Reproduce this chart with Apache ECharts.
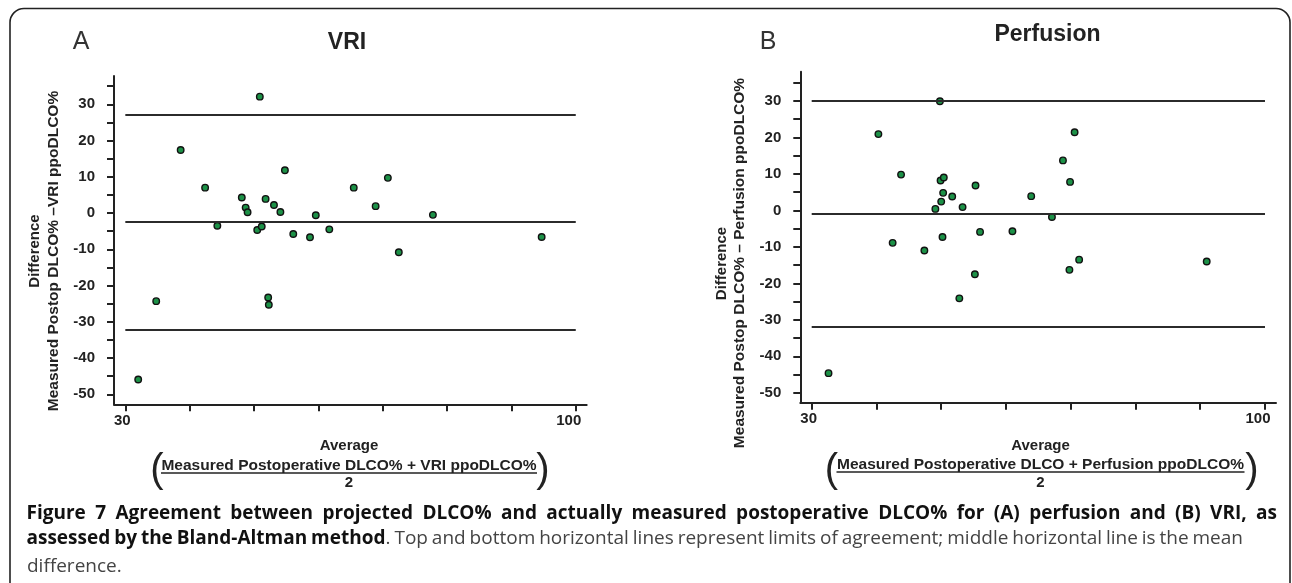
<!DOCTYPE html>
<html>
<head>
<meta charset="utf-8">
<script src="https://cdn.jsdelivr.net/npm/echarts@6/dist/echarts.min.js"></script>
<style>
    html, body { margin: 0; padding: 0; background: #fff; }
    #graph1 { width: 1292px; height: 583px; }
</style>
</head>
<body>
<div id="graph1"></div>
<script>
// A: VRI -- average vs difference
var vriAverage    = [50.9, 38.6, 42.4, 44.3, 48.1, 48.7, 49.0, 50.5, 51.2, 51.8, 53.1, 54.1, 54.8, 56.1, 58.7, 59.6, 61.7, 65.5, 68.9, 70.8, 72.5, 77.8, 34.8, 52.2, 52.3, 32.0, 94.7];
var vriDifference = [32.1, 17.4, 7.0, -3.5, 4.3, 1.5, 0.2, -4.7, -3.7, 3.9, 2.2, 0.3, 11.8, -5.8, -6.7, -0.6, -4.5, 7.0, 1.9, 9.7, -10.8, -0.5, -24.3, -23.3, -25.3, -45.9, -6.6];
var vriLimits     = [27.2, -2.4, -32.3];   // upper limit, mean, lower limit

// B: Perfusion
var perfAverage    = [49.8, 40.3, 43.8, 42.5, 47.4, 49.1, 50.0, 49.9, 50.4, 50.3, 51.7, 50.2, 53.3, 52.8, 55.2, 55.3, 56.0, 61.0, 63.9, 67.1, 68.8, 69.9, 69.8, 70.6, 71.3, 32.6, 91.0];
var perfDifference = [29.9, 20.9, 9.8, -8.9, -11.0, 0.4, 2.4, 8.2, 9.0, 4.8, 3.8, -7.3, 0.9, -24.1, -17.5, 6.8, -5.9, -5.7, 3.9, -1.8, 13.7, 7.8, -16.3, 21.4, -13.5, -44.6, -14.0];
var perfLimits     = [30.0, -1.0, -32.0];

// ticks / labels
var limitSpan   = [30, 100];
var xTickValues = [30, 40, 50, 60, 70, 80, 90, 100];
var xLabelValues = [30, 100];
var yTickValues = [-50, -45, -40, -35, -30, -25, -20, -15, -10, -5, 0, 5, 10, 15, 20, 25, 30, 35];
var yLabelValues = [-50, -40, -30, -20, -10, 0, 10, 20, 30];

var AXIS_FONT = '"Liberation Sans", Arial, sans-serif';
var INK = '#222';

function pairs(xs, ys) {
    return xs.map(function (x, i) { return [x, ys[i]]; });
}

function makeXAxis(idx) {
    return {
        type: 'value', gridIndex: idx, min: 28.24, max: 101.7,
        splitLine: {show: false},
        axisLine: {onZero: false, lineStyle: {color: INK, width: 2}},
        axisTick: {customValues: xTickValues, length: 7, lineStyle: {color: INK, width: 2}},
        axisLabel: {
            customValues: xLabelValues, margin: 9,
            formatter: function (v) { return v === 100 ? '{r|' + v + '}' : '{l|' + v + '}'; },
            rich: {
                l: {fontFamily: AXIS_FONT, fontWeight: 'bold', fontSize: 15, color: INK, padding: [0, 6, 0, 0]},
                r: {fontFamily: AXIS_FONT, fontWeight: 'bold', fontSize: 15, color: INK, padding: [0, 14, 0, 0]}
            }
        }
    };
}

function makeYAxis(idx, min, max) {
    return {
        type: 'value', gridIndex: idx, min: min, max: max,
        splitLine: {show: false},
        axisLine: {show: true, onZero: false, lineStyle: {color: INK, width: 2}},
        axisTick: {show: true, customValues: yTickValues, length: 7, lineStyle: {color: INK, width: 2}},
        axisLabel: {
            customValues: yLabelValues, margin: 19,
            fontFamily: AXIS_FONT, fontWeight: 'bold', fontSize: 15, color: INK
        }
    };
}

function makeSeries(idx, xs, ys, limits) {
    return {
        type: 'scatter', xAxisIndex: idx, yAxisIndex: idx,
        data: pairs(xs, ys),
        symbolSize: 6.5,
        itemStyle: {color: '#1c9147', borderColor: '#111', borderWidth: 1.4, opacity: 1},
        markLine: {
            silent: true, symbol: ['none', 'none'], label: {show: false},
            lineStyle: {color: '#2b2b2b', width: 1.8, type: 'solid'},
            data: limits.map(function (v) {
                return [{coord: [limitSpan[0], v]}, {coord: [limitSpan[1], v]}];
            })
        }
    };
}

// plain text element for graphic
function txt(x, y, text, font, extra) {
    var el = {
        type: 'text', x: x, y: y, silent: true,
        style: {text: text, font: font, fill: INK, align: 'center', verticalAlign: 'middle'}
    };
    if (extra) { for (var k in extra) el[k] = extra[k]; }
    return el;
}

// caption: words spread between x0 and x1 (justify), parts = [[text, font, color]]
var measureCtx = document.createElement('canvas').getContext('2d');
function captionLine(parts, x0, x1, y, justify) {
    var words = [];
    parts.forEach(function (p) {
        var bits = p[0].split(' ');
        bits.forEach(function (b, i) {
            if (b === '') return;
            var piece = {t: b, font: p[1], fill: p[2]};
            if (i === 0 && words.length && p[0].charAt(0) !== ' ') words[words.length - 1].push(piece);
            else words.push([piece]);
        });
    });
    var total = 0;
    words.forEach(function (w) {
        w.forEach(function (pc) { measureCtx.font = pc.font; pc.w = measureCtx.measureText(pc.t).width; total += pc.w; });
    });
    measureCtx.font = parts[parts.length - 1][1];
    var gap = justify ? (x1 - x0 - total) / (words.length - 1) : measureCtx.measureText(' ').width;
    var out = [], x = x0;
    words.forEach(function (w) {
        w.forEach(function (pc) {
            out.push({type: 'text', x: x, y: y, silent: true,
                style: {text: pc.t, font: pc.font, fill: pc.fill, align: 'left', verticalAlign: 'middle'}});
            x += pc.w;
        });
        x += gap;
    });
    return out;
}

var myChart = echarts.init(document.getElementById('graph1'), null, {renderer: 'canvas'});

var B15 = 'bold 15px ' + AXIS_FONT;
var B155 = 'bold 15.5px ' + AXIS_FONT;
var PAREN = '40px ' + AXIS_FONT;
var CAP_B = 'bold 19px "Open Sans", sans-serif';
var CAP_N = '19px "Open Sans", sans-serif';

var graphics = [
    {type: 'rect', silent: true, z: -1,
        shape: {x: 10, y: 8.5, width: 1280, height: 640, r: 14},
        style: {fill: 'none', stroke: '#222', lineWidth: 1.6}},

    // panel letters and titles
    txt(81, 42, 'A', '25px ' + AXIS_FONT, {style: {text: 'A', font: '25px ' + AXIS_FONT, fill: '#333', align: 'center', verticalAlign: 'middle'}}),
    txt(768, 42, 'B', '25px ' + AXIS_FONT, {style: {text: 'B', font: '25px ' + AXIS_FONT, fill: '#333', align: 'center', verticalAlign: 'middle'}}),
    txt(347, 43, 'VRI', 'bold 23px ' + AXIS_FONT),
    txt(1047.5, 34.5, 'Perfusion', 'bold 23px ' + AXIS_FONT),

    // y axis titles
    txt(34.5, 251, 'Difference', B15, {rotation: Math.PI / 2}),
    txt(53.5, 251, 'Measured Postop DLCO% \u2013VRI ppoDLCO%', B155, {rotation: Math.PI / 2}),
    txt(721.5, 263.5, 'Difference', B15, {rotation: Math.PI / 2}),
    txt(740, 263, 'Measured Postop DLCO% \u2013 Perfusion ppoDLCO%', B155, {rotation: Math.PI / 2}),

    // x axis titles (fraction)
    txt(349, 445.5, 'Average', B15),
    txt(349, 465.5, 'Measured Postoperative DLCO% + VRI ppoDLCO%', B155),
    {type: 'line', silent: true, shape: {x1: 161, y1: 473, x2: 537, y2: 473}, style: {stroke: INK, lineWidth: 1.5}},
    txt(349, 483, '2', B15),
    txt(157, 471, '(', PAREN),
    txt(543, 471, ')', PAREN),

    txt(1040.5, 445.5, 'Average', B15),
    txt(1040.5, 465, 'Measured Postoperative DLCO + Perfusion ppoDLCO%', B155),
    {type: 'line', silent: true, shape: {x1: 836.5, y1: 472, x2: 1244.5, y2: 472}, style: {stroke: INK, lineWidth: 1.5}},
    txt(1040.5, 483, '2', B15),
    txt(831.5, 471, '(', PAREN),
    txt(1252, 471, ')', PAREN)
];

graphics = graphics
    .concat(captionLine([['Figure 7 Agreement between projected DLCO% and actually measured postoperative DLCO% for (A) perfusion and (B) VRI, as', CAP_B, '#111']], 26.5, 1277, 514, true))
    .concat(captionLine([['assessed by the Bland-Altman method', CAP_B, '#111'],
        ['. Top and bottom horizontal lines represent limits of agreement; middle horizontal line is the mean', CAP_N, '#444']], 26.5, 1243, 539, true))
    .concat(captionLine([['difference.', CAP_N, '#444']], 27, 1277, 567, false));

var option = {
    animation: false,
    backgroundColor: '#fff',
    grid: [
        {left: 114, top: 76, width: 472.7, height: 328.3},
        {left: 800.3, top: 71.7, width: 475.7, height: 331}
    ],
    xAxis: [makeXAxis(0), makeXAxis(1)],
    yAxis: [makeYAxis(0, -52.76, 37.8), makeYAxis(1, -52.7, 38.0)],
    series: [
        makeSeries(0, vriAverage, vriDifference, vriLimits),
        makeSeries(1, perfAverage, perfDifference, perfLimits)
    ],
    graphic: graphics
};

if (option && typeof option === "object") {
    myChart.setOption(option, true);
}
</script>
</body>
</html>
